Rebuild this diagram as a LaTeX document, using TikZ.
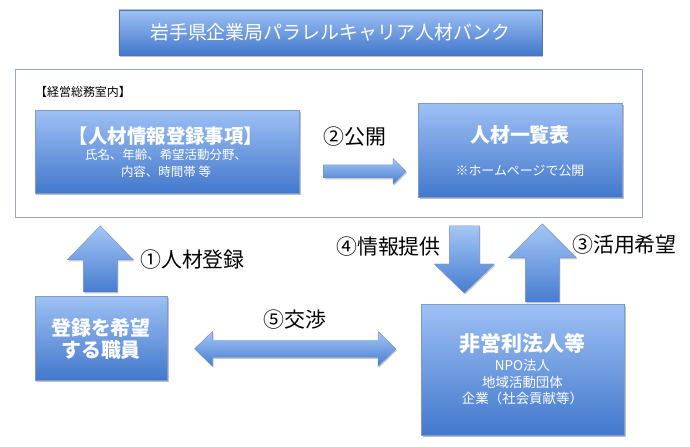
\documentclass[tikz,border=0pt]{standalone}
\usepackage{fontspec}
\setmainfont{Noto Sans CJK JP}
\usetikzlibrary{shadows,calc}
\definecolor{bxtop}{RGB}{158,192,244}
\definecolor{bxbot}{RGB}{66,120,204}
\definecolor{bxline}{RGB}{125,155,205}
\definecolor{framec}{RGB}{150,168,192}
\definecolor{artop}{RGB}{165,198,245}
\definecolor{arbot}{RGB}{70,125,208}
\definecolor{arline}{RGB}{110,145,205}
\newcommand\fsz[1]{\fontsize{#1}{#1}\selectfont}
% block arrows: #1 tail, #2 tip, #3 shaft half width, #4 head half width, #5 head length
\newcommand\blkup[5]{\shade[blkarrow] ($(#1)+(-#3,0)$) -- ($(#2)+(-#3,#5)$) -- ($(#2)+(-#4,#5)$) -- (#2) -- ($(#2)+(#4,#5)$) -- ($(#2)+(#3,#5)$) -- ($(#1)+(#3,0)$) -- cycle;}
\newcommand\blkdown[5]{\shade[blkarrow] ($(#1)+(-#3,0)$) -- ($(#2)+(-#3,-#5)$) -- ($(#2)+(-#4,-#5)$) -- (#2) -- ($(#2)+(#4,-#5)$) -- ($(#2)+(#3,-#5)$) -- ($(#1)+(#3,0)$) -- cycle;}
\newcommand\blkright[5]{\shade[blkarrow] ($(#1)+(0,-#3)$) -- ($(#2)+(-#5,-#3)$) -- ($(#2)+(-#5,-#4)$) -- (#2) -- ($(#2)+(-#5,#4)$) -- ($(#2)+(-#5,#3)$) -- ($(#1)+(0,#3)$) -- cycle;}
\newcommand\blkboth[5]{\shade[blkarrow] (#1) -- ($(#1)+(#5,-#4)$) -- ($(#1)+(#5,-#3)$) -- ($(#2)+(-#5,-#3)$) -- ($(#2)+(-#5,-#4)$) -- (#2) -- ($(#2)+(-#5,#4)$) -- ($(#2)+(-#5,#3)$) -- ($(#1)+(#5,#3)$) -- ($(#1)+(#5,#4)$) -- cycle;}
\tikzset{
  bluebox/.style={rectangle, top color=bxtop, bottom color=bxbot, draw=bxline, line width=0.6pt,
    inner sep=0pt, anchor=north west,
    drop shadow={shadow xshift=1.2bp, shadow yshift=-1.8bp, opacity=0.35, fill=black!70}},
  blkarrow/.style={top color=artop, bottom color=arbot, draw=arline, line width=0.4pt,
    drop shadow={shadow xshift=1bp, shadow yshift=-1.5bp, opacity=0.3, fill=black!70}},
  boxtxt/.style={text=white, inner sep=0pt, align=center},
  lbl/.style={text=black, inner sep=0pt, anchor=west}
}
\begin{document}
\begin{tikzpicture}[x=1bp,y=-1bp]
\fill[white] (0,0) rectangle (690,447);
\useasboundingbox (0,0) rectangle (690,447);

% title
\node[bluebox, anchor=center, minimum width=423bp, minimum height=45bp, draw=arline!80!black] (title) at (330.5,32.5) {};
\node[boxtxt] (titletxt) at (title.center) {\fsz{19}岩手県企業局パラレルキャリア人材バンク};

% frame
\node[draw=framec, line width=0.8pt, fill=white, anchor=north west, minimum width=627bp, minimum height=148bp, inner sep=0pt] (frame) at (15,69) {};
\node[lbl] (office) at (35,92) {\fsz{12}【経営総務室内】};

% registration items box
\node[bluebox, minimum width=264bp, minimum height=83bp] (reg) at (35,110) {};
\node[boxtxt] (regt) at (166,136) {\fsz{19.5}\bfseries 【人材情報登録事項】};
\node[boxtxt] (regl1) at (166,155) {\fsz{12.5}氏名、年齢、希望活動分野、};
\node[boxtxt] (regl2) at (166,172) {\fsz{12.5}内容、時間帯\ 等};

% list box
\node[bluebox, minimum width=204bp, minimum height=94bp] (list) at (418,103) {};
\node[boxtxt] (listt) at (520,135) {\fsz{20}\bfseries 人材一覧表};
\node[boxtxt] (lists) at (520,171) {\fsz{13}※ホームページで公開};

% staff box
\node[bluebox, minimum width=132bp, minimum height=84bp] (staff) at (35,296) {};
\node[boxtxt, font=\fontsize{20}{21.5}\selectfont\bfseries] (stafft) at (101,339) {登録を希望\\する職員};

% npo box
\node[bluebox, minimum width=203bp, minimum height=131bp] (npo) at (421,304) {};
\node[boxtxt] (npot) at (522.5,344) {\fsz{21}\bfseries 非営利法人等};
\node[boxtxt] (npo1) at (522.5,365) {\fsz{13.5}NPO法人};
\node[boxtxt] (npo2) at (522.5,382) {\fsz{13.5}地域活動団体};
\node[boxtxt] (npo3) at (522.5,398) {\fsz{13.5}企業（社会貢献等）};

% labels
\node[lbl] (l2) at (323,137) {\fsz{21}②公開};
\node[lbl] (l1) at (140,260) {\fsz{21}①人材登録};
\node[lbl] (l4) at (336,247) {\fsz{21}④情報提供};
\node[lbl] (l3) at (572,245) {\fsz{21}③活用希望};
\node[lbl] (l5) at (263,320) {\fsz{21}⑤交渉};

% arrow end points
\coordinate (a2t) at ($(reg.east)+(24,19.5)$);
\coordinate (a2p) at ($(list.west |- a2t)+(-12,0)$);
\coordinate (a1t) at ($(staff.north)+(-1,-4)$);
\coordinate (a1p) at ($(a1t |- frame.south)+(0,8)$);
\coordinate (a4p) at ($(npo.north)+(-58.5,-11)$);
\coordinate (a4t) at ($(a4p |- frame.south)+(0,8)$);
\coordinate (a3t) at ($(npo.north)+(19.5,-2)$);
\coordinate (a3p) at ($(a3t |- frame.south)+(0,6)$);
\coordinate (a5l) at ($(staff.east)+(27,10.5)$);
\coordinate (a5r) at ($(npo.west |- a5l)+(-25,0)$);

% block arrows
\blkright{a2t}{a2p}{6.5}{13}{13}
\blkup{a1t}{a1p}{17}{33}{34}
\blkdown{a4t}{a4p}{15}{30}{29}
\blkup{a3t}{a3p}{17}{34}{34}
\blkboth{a5l}{a5r}{8.5}{17.5}{18}
\end{tikzpicture}
\end{document}
